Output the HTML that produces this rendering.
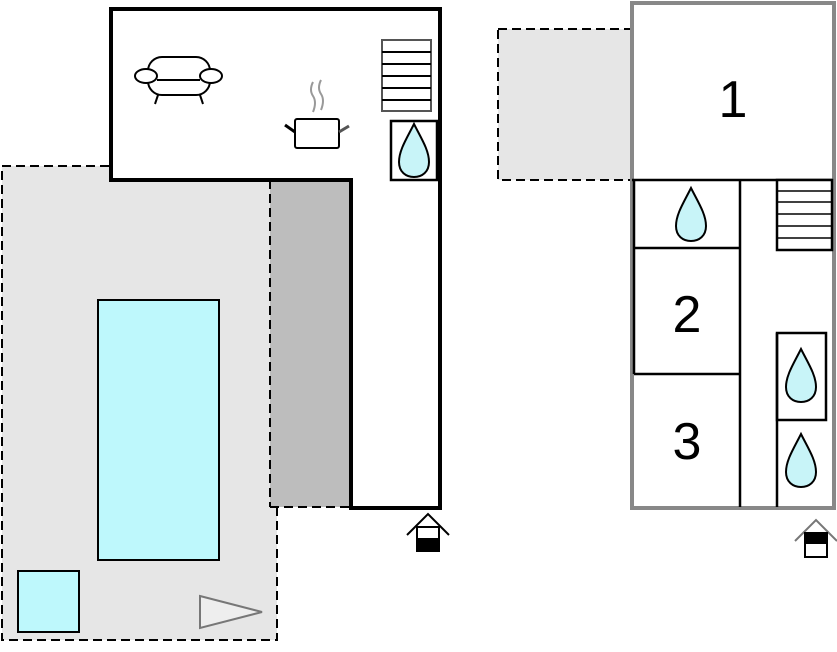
<!DOCTYPE html>
<html><head><meta charset="utf-8"><style>body{margin:0;background:#fff}svg{display:block}</style></head><body>
<svg width="837" height="652" viewBox="0 0 837 652" xmlns="http://www.w3.org/2000/svg">
<defs>
<g id="drop"><path d="M0,-26 C-7,-12 -15,0 -15,12 C-15,22 -8,27 0,27 C8,27 15,22 15,12 C15,0 7,-12 0,-26 Z" fill="#c8f4f8" stroke="#000" stroke-width="2"/></g>
<g id="ent"><path d="M-21,21 L0,0 L21,21" fill="none" stroke="#000" stroke-width="2"/><rect x="-11" y="13" width="22" height="24" fill="#fff" stroke="#000" stroke-width="2"/><rect x="-11" y="24" width="22" height="13" fill="#000"/></g>
</defs>
<!-- left -->
<rect x="2" y="166" width="275" height="474" fill="#e6e6e6" stroke="#000" stroke-width="2" stroke-dasharray="9,5"/>
<rect x="270" y="180" width="81" height="327" fill="#bdbdbd"/>
<line x1="270" y1="180" x2="270" y2="507" stroke="#000" stroke-width="2" stroke-dasharray="9,5"/>
<line x1="270" y1="507" x2="351" y2="507" stroke="#000" stroke-width="2" stroke-dasharray="9,5"/>
<path d="M111,9 H440 V508 H351 V180 H111 Z" fill="#fff" stroke="#000" stroke-width="4"/>
<rect x="98" y="300" width="121" height="260" fill="#bef8fc" stroke="#000" stroke-width="2"/>
<rect x="18" y="571" width="61" height="61" fill="#bef8fc" stroke="#000" stroke-width="2"/>
<path d="M200,596 L262,612 L200,628 Z" fill="#eee" stroke="#777" stroke-width="2"/>
<g stroke="#555" stroke-width="2" fill="#fff"><rect x="382" y="40" width="49" height="71"/>
<path d="M382,52 H431 M382,64 H431 M382,76 H431 M382,88 H431 M382,100 H431" stroke="#000"/></g>
<rect x="391" y="121" width="46" height="59" fill="#fff" stroke="#000" stroke-width="2.5"/>
<use href="#drop" x="414" y="150"/>
<!-- sofa -->
<g fill="#fff" stroke="#000" stroke-width="2">
<rect x="148" y="57" width="62" height="38" rx="14"/>
<ellipse cx="146" cy="76" rx="11" ry="7"/><ellipse cx="211" cy="76" rx="11" ry="7"/>
<line x1="158" y1="95" x2="155" y2="104"/><line x1="200" y1="95" x2="203" y2="104"/>
<line x1="157" y1="80" x2="200" y2="80"/>
</g>
<!-- pot -->
<rect x="295" y="119" width="44" height="29" rx="2" fill="#fff" stroke="#000" stroke-width="2"/>
<line x1="285" y1="125" x2="295" y2="132" stroke="#000" stroke-width="3"/>
<line x1="339" y1="132" x2="349" y2="126" stroke="#555" stroke-width="3"/>
<path d="M313,82 q-4,8 0,14 q4,6 0,16 M321,80 q-4,8 0,14 q4,6 0,16" fill="none" stroke="#999" stroke-width="2"/>
<use href="#ent" x="428" y="514"/>
<!-- right -->
<rect x="498" y="29" width="134" height="151" fill="#e6e6e6" stroke="#000" stroke-width="2" stroke-dasharray="9,5"/>
<rect x="632" y="3" width="202" height="505" fill="#fff" stroke="#888" stroke-width="4"/>
<g stroke="#000" stroke-width="2.5" fill="none">
<line x1="632" y1="180" x2="832" y2="180"/>
<line x1="634" y1="248" x2="740" y2="248"/>
<line x1="634" y1="374" x2="740" y2="374"/>
<line x1="634" y1="180" x2="634" y2="374"/>
<line x1="740" y1="180" x2="740" y2="507"/>
<line x1="777" y1="333" x2="777" y2="507"/>
<rect x="777" y="333" width="49" height="87"/>
<rect x="777" y="180" width="55" height="70" fill="#fff"/>
<path d="M777,191 H832 M777,202 H832 M777,214 H832 M777,226 H832 M777,238 H832" stroke-width="1.5"/>
</g>
<use href="#drop" x="691" y="214"/>
<use href="#drop" x="801" y="375"/>
<use href="#drop" x="801" y="460"/>
<g font-family="Liberation Sans, sans-serif" font-size="52" text-anchor="middle">
<text x="733" y="117">1</text><text x="687" y="332">2</text><text x="687" y="459">3</text></g>
<g transform="translate(816,520)"><path d="M-21,21 L0,0 L21,21" fill="none" stroke="#777" stroke-width="2"/><rect x="-11" y="13" width="22" height="24" fill="#fff" stroke="#000" stroke-width="2"/><rect x="-11" y="13" width="22" height="11" fill="#000"/></g>
</svg>
</body></html>
